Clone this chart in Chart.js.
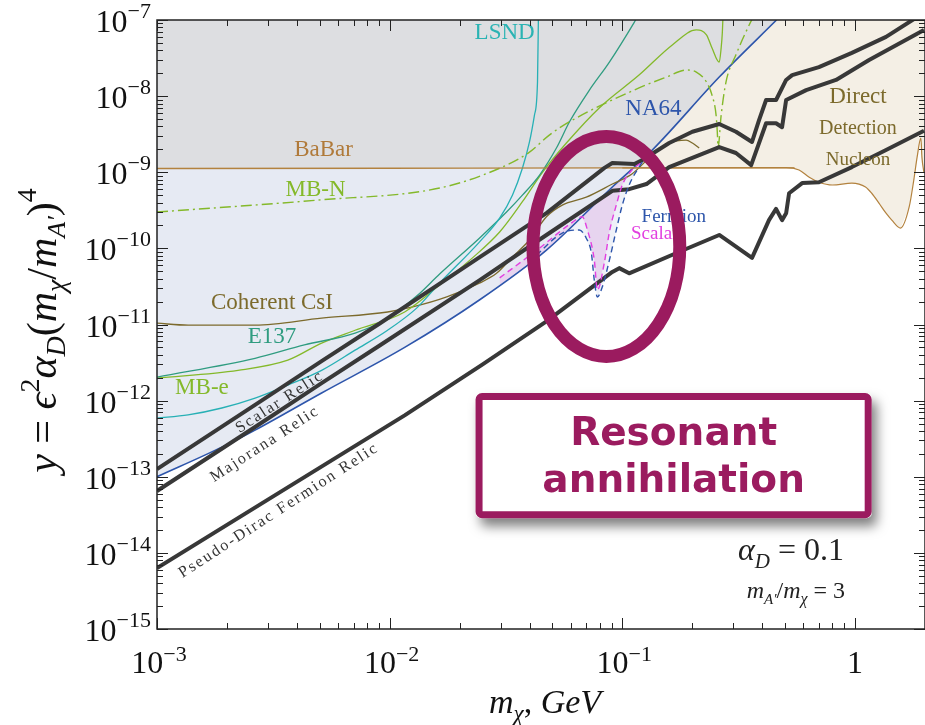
<!DOCTYPE html>
<html>
<head>
<meta charset="utf-8">
<title>Resonant annihilation</title>
<script src="https://cdn.jsdelivr.net/npm/chart.js@4.4.1/dist/chart.umd.min.js"></script>
<style>
  html, body { margin: 0; padding: 0; background: #fff; }
  canvas { display: block; }
</style>
</head>
<body>
<canvas id="chart" width="925" height="725"></canvas>
<script>
// x = m_chi [GeV], y = eps^2 alpha_D (m_chi/m_A')^4

const xMin = 1e-3, xMax = 2, yMin = 1e-15, yMax = 1e-7;
const xTickPowers = [-3, -2, -1, 0];
const yTickPowers = [-15, -14, -13, -12, -11, -10, -9, -8, -7];

const babarX = [0.001, 0.01, 0.1, 0.55];
const babarY = [1.12e-9, 1.13e-9, 1.14e-9, 1.14e-9];

const ddX = [0.1, 0.506, 0.575, 0.636, 0.70, 0.80, 0.97, 1.11, 1.18, 1.27, 1.36, 1.44, 1.57, 1.71, 1.79, 1.85, 1.92, 1.94, 1.98];
const ddY = [1.14e-9, 1.15e-9, 1.07e-9, 8.6e-10, 7.4e-10, 6.8e-10, 7.2e-10, 6.4e-10, 5.3e-10, 3.9e-10, 2.9e-10, 2.35e-10, 1.85e-10, 3.5e-10, 7.9e-10, 1.58e-9, 2.8e-9, 1.58e-9, 9.8e-10];

const na64X = [0.001, 0.0019, 0.00264, 0.0051, 0.0116, 0.0243, 0.0472, 0.0906, 0.1346, 0.261, 0.46];
const na64Y = [1.0e-13, 2.45e-13, 4.1e-13, 1.26e-12, 5.0e-12, 2.1e-11, 9.5e-11, 6.4e-10, 1.96e-9, 1.78e-8, 1e-7];

const lsndX = [0.001, 0.00136, 0.0019, 0.00264, 0.00365, 0.0051, 0.0071, 0.0098, 0.01306, 0.0164, 0.0243, 0.0297, 0.0337, 0.0372, 0.0399, 0.0419, 0.0432, 0.0436];
const lsndY = [5.9e-13, 6.5e-13, 8.0e-13, 1.08e-12, 1.6e-12, 2.5e-12, 4.6e-12, 8.4e-12, 1.64e-11, 3.5e-11, 1.21e-10, 2.5e-10, 5.0e-10, 1.13e-9, 2.5e-9, 5.6e-9, 1.53e-8, 1.2e-7];

const e137X = [0.001, 0.00264, 0.0043, 0.0071, 0.0098, 0.01306, 0.0164, 0.0243, 0.0318, 0.0372, 0.0441, 0.0521, 0.0593, 0.0722, 0.088, 0.1127, 0.118];
const e137Y = [2.04e-12, 3.6e-12, 5.4e-12, 7.7e-12, 1.21e-11, 2.36e-11, 4.6e-11, 1.36e-10, 3.0e-10, 5.0e-10, 9.2e-10, 2.08e-9, 4.6e-9, 1.2e-8, 2.8e-8, 9.4e-8, 1.2e-7];

const mbeX = [0.001, 0.00223, 0.00365, 0.0051, 0.0071, 0.0116, 0.0164, 0.0227, 0.0297, 0.0372, 0.0454, 0.0575, 0.0796, 0.118, 0.164, 0.208, 0.230, 0.243, 0.261, 0.266, 0.269, 0.271];
const mbeY = [1.98e-12, 2.5e-12, 3.4e-12, 5.7e-12, 8.4e-12, 1.46e-11, 3.3e-11, 7.5e-11, 1.64e-10, 4.1e-10, 1.0e-9, 2.42e-9, 7.0e-9, 1.89e-8, 4.7e-8, 7.4e-8, 6.4e-8, 4.3e-8, 2.8e-8, 4.3e-8, 6.7e-8, 1.16e-7];

const mbnX = [0.001, 0.00486, 0.0164, 0.0297, 0.0399, 0.0487, 0.0593, 0.118, 0.155, 0.188, 0.208, 0.230, 0.243, 0.253, 0.256, 0.258, 0.266, 0.279, 0.308, 0.351, 0.369];
const mbnY = [3.0e-10, 4.3e-10, 6.2e-10, 1.13e-9, 1.84e-9, 3.1e-9, 4.6e-9, 1.28e-8, 1.78e-8, 2.2e-8, 2.07e-8, 1.53e-8, 1.03e-8, 5.6e-9, 3.4e-9, 2.14e-9, 5.6e-9, 1.53e-8, 3.5e-8, 8.6e-8, 1.16e-7];

const csiX = [0.001, 0.00136, 0.00264, 0.0051, 0.0098, 0.01256, 0.0176, 0.0243, 0.0288, 0.0337, 0.0399, 0.0472, 0.0552, 0.070, 0.0906, 0.110, 0.1346, 0.159, 0.188, 0.200, 0.214];
const csiY = [1.04e-11, 9.8e-12, 9.8e-12, 1.21e-11, 1.46e-11, 1.7e-11, 2.3e-11, 3.5e-11, 4.7e-11, 7.7e-11, 1.29e-10, 2.6e-10, 3.7e-10, 4.7e-10, 7.0e-10, 9.5e-10, 1.68e-9, 2.42e-9, 2.65e-9, 2.42e-9, 2.08e-9];

const scalarRelicX = [0.001, 0.00264, 0.0051, 0.00906, 0.0243, 0.0472, 0.0838, 0.0906, 0.1127, 0.122, 0.159, 0.200, 0.261, 0.308, 0.361, 0.387, 0.415, 0.458, 0.506, 0.537, 0.70, 0.97, 1.36, 1.83];
const scalarRelicY = [1.26e-13, 8.8e-13, 3.3e-12, 1.03e-11, 7.6e-11, 2.9e-10, 1.14e-9, 1.32e-9, 1.28e-9, 1.45e-9, 2.42e-9, 3.4e-9, 4.3e-9, 3.4e-9, 2.5e-9, 4.85e-9, 8.9e-9, 8.9e-9, 1.63e-8, 1.89e-8, 2.41e-8, 3.7e-8, 6.0e-8, 1.07e-7];

const majoranaX = [0.001, 0.00264, 0.0051, 0.00906, 0.0243, 0.0472, 0.0906, 0.107, 0.127, 0.159, 0.261, 0.308, 0.358, 0.415, 0.458, 0.486, 0.506, 0.617, 0.829, 1.15, 1.98];
const majoranaY = [6.5e-14, 4.5e-13, 1.7e-12, 5.3e-12, 3.8e-11, 1.5e-10, 5.7e-10, 6.0e-10, 7.0e-10, 1.17e-9, 2.14e-9, 1.79e-9, 1.24e-9, 4.4e-9, 4.4e-9, 3.9e-9, 8.9e-9, 1.2e-8, 1.63e-8, 2.98e-8, 7.4e-8];

const pseudoDiracX = [0.001, 0.00312, 0.0116, 0.0251, 0.0472, 0.0906, 0.097, 0.107, 0.171, 0.261, 0.361, 0.427, 0.458, 0.486, 0.506, 0.521, 0.593, 0.70, 0.97, 1.36, 1.98];
const pseudoDiracY = [6.3e-15, 5.4e-14, 6.4e-13, 3.0e-12, 1.1e-11, 4.9e-11, 5.5e-11, 4.7e-11, 8.7e-11, 1.5e-10, 7.5e-11, 2.35e-10, 3.3e-10, 2.35e-10, 2.9e-10, 5.3e-10, 7.2e-10, 7.4e-10, 1.17e-9, 1.96e-9, 3.5e-9];

const fermionResX = [0.0399, 0.0552, 0.0653, 0.070, 0.0736, 0.0758, 0.0781, 0.082, 0.088, 0.0942, 0.100, 0.107, 0.118, 0.1306];
const fermionResY = [6.6e-11, 1.59e-10, 1.74e-10, 1.36e-10, 8.7e-11, 3.8e-11, 2.3e-11, 3.1e-11, 7.0e-11, 1.74e-10, 3.7e-10, 6.8e-10, 1.17e-9, 1.79e-9];

const scalarResX = [0.0297, 0.0441, 0.061, 0.0673, 0.0708, 0.0758, 0.0781, 0.0838, 0.088, 0.0942, 0.100, 0.110, 0.122];
const scalarResY = [4.1e-11, 1.01e-10, 2.2e-10, 2.6e-10, 1.74e-10, 7.0e-11, 2.83e-11, 6.6e-11, 1.64e-10, 3.7e-10, 6.8e-10, 1.07e-9, 1.36e-9];

// ---------------------------------------------------------------

const pts = (xs, ys) => xs.map((x, i) => ({ x: x, y: ys[i] }));

// gray region: above both BaBar and NA64 (switch where NA64 crosses the BaBar level)
const crossX = (() => {
  const level = Math.log10(babarY[babarY.length - 2]);
  for (let i = 1; i < na64X.length; i++) {
    const a = Math.log10(na64Y[i - 1]), b = Math.log10(na64Y[i]);
    if (a <= level && b >= level) {
      const t = (level - a) / (b - a);
      return Math.pow(10, Math.log10(na64X[i - 1]) + t * (Math.log10(na64X[i]) - Math.log10(na64X[i - 1])));
    }
  }
  return 0.11;
})();
const grayPts = pts(babarX, babarY).filter(p => p.x < crossX)
  .concat([{ x: crossX, y: babarY[babarY.length - 2] }])
  .concat(pts(na64X, na64Y).filter(p => p.x > crossX));

const C = {
  teal: '#27b0b5', sea: '#2f9c80', lime: '#84b92a', brown: '#b3823e', olive: '#7c6a2c',
  blue: '#2d55ab', black: '#383838', magenta: '#e23fe0', plum: '#9b1b5f'
};

const fillSet = (data, fill, color, order) => ({
  data: data, fill: fill, backgroundColor: color, borderWidth: 0, borderColor: 'transparent', order: order
});
const lineSet = (data, color, width, extra) => Object.assign({
  data: data, borderColor: color, borderWidth: width, fill: false, order: 1,
  cubicInterpolationMode: 'monotone'
}, extra || {});
const relic = { cubicInterpolationMode: 'default', tension: 0, order: 0, borderJoinStyle: 'round' };

const datasets = [
  fillSet(pts(ddX, ddY), 'end', '#f4efe5', 20),          // 0 direct detection region
  fillSet(pts(na64X, na64Y), 'end', '#e6eaf3', 19),      // 1 light blue region
  fillSet(grayPts, 'end', '#dddee1', 18),                // 2 gray region
  fillSet(pts(fermionResX, fermionResY), 1, '#eef1f8', 17),
  fillSet(pts(scalarResX, scalarResY), 1, '#e7d4ef', 16),
  lineSet(pts(babarX, babarY), C.brown, 1.4),
  lineSet(pts(ddX, ddY), C.brown, 1.2),
  lineSet(pts(mbnX, mbnY), C.lime, 1.4, { borderDash: [11, 4, 2, 4] }),
  lineSet(pts(lsndX, lsndY), C.teal, 1.3),
  lineSet(pts(e137X, e137Y), C.sea, 1.3),
  lineSet(pts(mbeX, mbeY), C.lime, 1.3),
  lineSet(pts(csiX, csiY), C.olive, 1.3),
  lineSet(pts(na64X, na64Y), C.blue, 1.6),
  lineSet(pts(scalarRelicX, scalarRelicY), C.black, 4, relic),
  lineSet(pts(majoranaX, majoranaY), C.black, 4, relic),
  lineSet(pts(pseudoDiracX, pseudoDiracY), C.black, 4, relic),
  lineSet(pts(fermionResX, fermionResY), C.blue, 1.4, { borderDash: [6, 4], order: -1 }),
  lineSet(pts(scalarResX, scalarResY), C.magenta, 1.4, { borderDash: [6, 4], order: -1 })
];

// ---------------------------------------------------------------

const RM = n => n + 'px "Liberation Serif", "DejaVu Serif", serif';
const IT = n => 'italic ' + n + 'px "Liberation Serif", "DejaVu Serif", serif';

function rich(ctx, segs, x, y, align) {
  let w = 0;
  segs.forEach(s => { ctx.font = s[1]; w += ctx.measureText(s[0]).width; });
  let cx = align === 'right' ? x - w : align === 'center' ? x - w / 2 : x;
  ctx.textAlign = 'left';
  ctx.textBaseline = 'alphabetic';
  segs.forEach(s => {
    ctx.font = s[1];
    ctx.fillText(s[0], cx, y + (s[2] || 0));
    cx += ctx.measureText(s[0]).width;
  });
  return w;
}

const overlay = {
  id: 'overlay',
  afterDatasetsDraw(chart) {
    const ctx = chart.ctx, a = chart.chartArea, xs = chart.scales.x, ys = chart.scales.y;
    const X = v => xs.getPixelForValue(v), Y = v => ys.getPixelForValue(v);

    ctx.save();
    // curve labels
    const label = (text, x, y, color, size, align) => {
      ctx.fillStyle = color;
      ctx.font = RM(size);
      ctx.textAlign = align || 'center';
      ctx.textBaseline = 'middle';
      ctx.fillText(text, X(x), Y(y));
    };
    label('LSND', 0.0312, 6.7e-8, '#2ab3b3', 23);
    label('BaBar', 5.2e-3, 1.96e-9, '#b07a3a', 23);
    label('MB-N', 4.8e-3, 5.8e-10, C.lime, 23);
    label('NA64', 0.136, 6.8e-9, C.blue, 23);
    label('Direct', 1.03, 9.7e-9, C.olive, 23);
    label('Detection', 1.03, 3.7e-9, C.olive, 20);
    label('Nucleon', 1.03, 1.45e-9, C.olive, 19);
    label('Fermion', 0.121, 2.6e-10, C.blue, 19, 'left');
    label('Scalar', 0.109, 1.54e-10, C.magenta, 19, 'left');
    label('Coherent CsI', 3.12e-3, 1.9e-11, C.olive, 23);
    label('E137', 3.12e-3, 6.8e-12, C.sea, 23);
    label('MB-e', 1.56e-3, 1.46e-12, C.lime, 23);

    const tilted = (text, x, y) => {
      ctx.save();
      ctx.translate(X(x), Y(y));
      ctx.rotate(-33 * Math.PI / 180);
      ctx.fillStyle = '#333';
      ctx.font = RM(16);
      ctx.letterSpacing = '2px';
      ctx.textAlign = 'center';
      ctx.textBaseline = 'middle';
      ctx.fillText(text, 0, 0);
      ctx.letterSpacing = '0px';
      ctx.restore();
    };
    tilted('Scalar Relic', 3.37e-3, 9.6e-13);
    tilted('Majorana Relic', 2.91e-3, 2.68e-13);
    tilted('Pseudo-Dirac Fermion Relic', 3.34e-3, 3.6e-14);

    // parameters
    ctx.fillStyle = '#222';
    rich(ctx, [['α', IT(32)], ['D', IT(21), 8], [' = 0.1', RM(32)]], X(0.897), Y(8.0e-15), 'right');
    rich(ctx, [['m', IT(24)], ['A′', IT(15), 6], ['/', RM(24)], ['m', IT(24)], ['χ', IT(16), 6], [' = 3', RM(24)]], X(0.907), Y(2.54e-15), 'right');

    // frame and inward ticks
    ctx.strokeStyle = '#222';
    ctx.lineWidth = 1.5;
    ctx.strokeRect(a.left, a.top, a.right - a.left, a.bottom - a.top);
    ctx.lineWidth = 1;
    ctx.beginPath();
    xTickPowers.forEach(p => {
      for (let m = 1; m <= 9; m++) {
        const v = m * Math.pow(10, p);
        if (v < xMin || v > xMax) continue;
        const px = Math.round(X(v)) + 0.5, len = m === 1 ? 11 : 6;
        ctx.moveTo(px, a.bottom); ctx.lineTo(px, a.bottom - len);
        ctx.moveTo(px, a.top); ctx.lineTo(px, a.top + len);
      }
    });
    yTickPowers.forEach(p => {
      for (let m = 1; m <= 9; m++) {
        const v = m * Math.pow(10, p);
        if (v < yMin || v > yMax) continue;
        const py = Math.round(Y(v)) + 0.5, len = m === 1 ? 11 : 6;
        ctx.moveTo(a.left, py); ctx.lineTo(a.left + len, py);
        ctx.moveTo(a.right, py); ctx.lineTo(a.right - len, py);
      }
    });
    ctx.stroke();

    // tick labels
    ctx.fillStyle = '#111';
    yTickPowers.forEach(p => {
      const py = Y(Math.pow(10, p));
      rich(ctx, [['10', RM(32)], ['−' + Math.abs(p), RM(22), -14]], a.left - 6, py + 12, 'right');
    });
    xTickPowers.forEach(p => {
      const px = X(Math.pow(10, p));
      const segs = p === 0 ? [['1', RM(32)]] : [['10', RM(32)], ['−' + Math.abs(p), RM(22), -12]];
      rich(ctx, segs, px + (p === 0 ? 0 : 2), a.bottom + 44, 'center');
    });

    // axis titles
    rich(ctx, [['m', IT(34)], ['χ', IT(23), 8], [', ', RM(34)], ['GeV', IT(34)]], 545, a.bottom + 84, 'center');
    ctx.save();
    ctx.translate(56, (a.top + a.bottom) / 2 + 6);
    ctx.rotate(-Math.PI / 2);
    rich(ctx, [['y', IT(42)], [' = ', RM(42)], ['ϵ', IT(42)], ['2', RM(28), -17], ['α', IT(42)], ['D', IT(28), 9],
      ['(', RM(42)], ['m', IT(42)], ['χ', IT(28), 9], ['/', RM(42)], ['m', IT(42)], ['A′', IT(26), 9], [')', RM(42)],
      ['4', RM(28), -20]], 0, 0, 'center');
    ctx.restore();

    // resonance ellipse
    const ex0 = X(0.0413), ex1 = X(0.1766), ey0 = Y(2.94e-9), ey1 = Y(3.8e-12);
    ctx.strokeStyle = C.plum;
    ctx.lineWidth = 13;
    ctx.beginPath();
    ctx.ellipse((ex0 + ex1) / 2, (ey0 + ey1) / 2, (ex1 - ex0) / 2, (ey1 - ey0) / 2, 0, 0, 2 * Math.PI);
    ctx.stroke();

    // callout box
    const bx0 = X(0.0234), bx1 = X(1.18), by0 = Y(1.26e-12), by1 = Y(2.86e-14);
    ctx.save();
    ctx.shadowColor = 'rgba(0,0,0,0.5)';
    ctx.shadowBlur = 12;
    ctx.shadowOffsetX = 5;
    ctx.shadowOffsetY = 8;
    ctx.fillStyle = '#fff';
    ctx.beginPath();
    ctx.roundRect(bx0, by0, bx1 - bx0, by1 - by0, 5);
    ctx.fill();
    ctx.restore();
    ctx.strokeStyle = C.plum;
    ctx.lineWidth = 7;
    ctx.beginPath();
    ctx.roundRect(bx0 + 3.5, by0 + 3.5, bx1 - bx0 - 7, by1 - by0 - 7, 3);
    ctx.stroke();
    ctx.fillStyle = C.plum;
    ctx.font = 'bold 39px "DejaVu Sans", sans-serif';
    ctx.textAlign = 'center';
    ctx.textBaseline = 'alphabetic';
    ctx.fillText('Resonant', (bx0 + bx1) / 2, by0 + 52);
    ctx.fillText('annihilation', (bx0 + bx1) / 2, by0 + 99);
    ctx.restore();
  }
};

new Chart(document.getElementById('chart').getContext('2d'), {
  type: 'line',
  data: { datasets: datasets },
  options: {
    responsive: false,
    animation: false,
    devicePixelRatio: 1,
    layout: { padding: { left: 157, top: 20, right: 0, bottom: 96 } },
    elements: { point: { radius: 0, hoverRadius: 0 } },
    plugins: { legend: { display: false }, tooltip: { enabled: false } },
    scales: {
      x: { type: 'logarithmic', min: xMin, max: xMax, display: false },
      y: { type: 'logarithmic', min: yMin, max: yMax, display: false }
    }
  },
  plugins: [overlay]
});
</script>
</body>
</html>
